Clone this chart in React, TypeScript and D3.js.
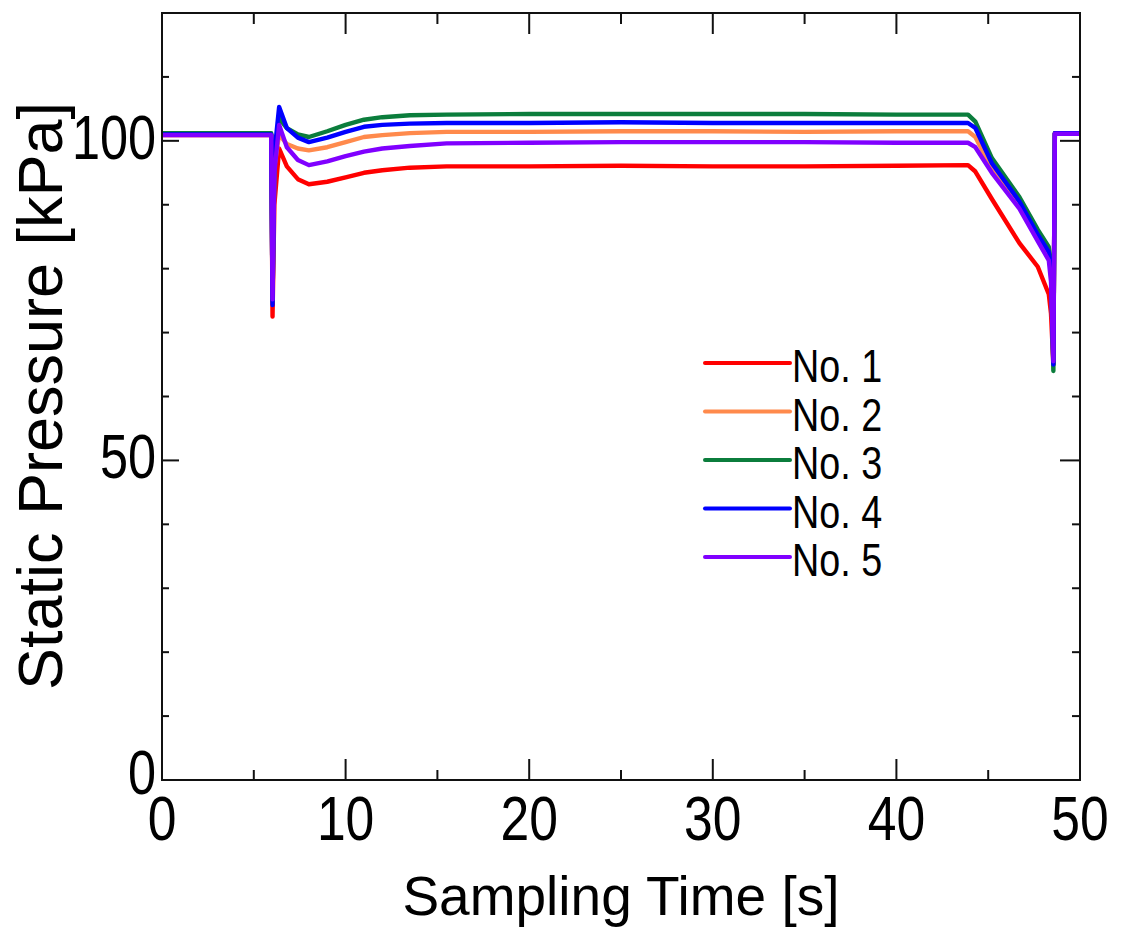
import React from "react";
import * as d3 from "d3";

// ---- data ----
const times = [0, 5.95, 6.02, 6.12, 6.38, 6.8, 7.4, 8.0, 9.0, 10.0, 11.0, 12.0, 13.5, 15.5, 20, 25, 30, 35, 40, 43.9, 44.3, 45.2, 46.7, 47.7, 48.3, 48.42, 48.55, 48.63, 50];

const no1 = [100.9, 100.9, 72.5, 90, 98.8, 96, 94, 93.2, 93.6, 94.3, 95.0, 95.4, 95.8, 96.0, 96.0, 96.1, 96.0, 96.0, 96.1, 96.2, 95.2, 90.9, 84, 80.3, 76, 73, 65, 101.1, 101.1];
const no2 = [101.0, 101.0, 75, 96, 101, 99.5, 98.8, 98.5, 99.0, 99.8, 100.6, 100.9, 101.2, 101.4, 101.4, 101.5, 101.5, 101.4, 101.5, 101.5, 100.6, 95.6, 89.8, 84.6, 81.8, 79.5, 65, 101.2, 101.2];
const no3 = [101.2, 101.2, 75, 97, 103.5, 102, 101, 100.6, 101.5, 102.5, 103.3, 103.7, 104.0, 104.1, 104.2, 104.2, 104.2, 104.2, 104.1, 104.1, 103.0, 97.3, 91.2, 86.1, 83.4, 80.5, 64, 101.2, 101.2];
const no4 = [101.0, 101.0, 74.3, 98, 105.3, 102, 100.5, 99.8, 100.5, 101.4, 102.2, 102.5, 102.7, 102.8, 102.8, 102.9, 102.8, 102.8, 102.8, 102.8, 102, 96.5, 90.5, 85.3, 82.6, 80, 65, 101.2, 101.2];
const no5 = [100.9, 100.9, 75.2, 95, 102.5, 99, 97, 96.2, 96.8, 97.6, 98.3, 98.8, 99.2, 99.6, 99.7, 99.8, 99.8, 99.8, 99.7, 99.7, 99.0, 95.0, 89.4, 84.3, 81.3, 78, 65.5, 101.1, 101.1];

const seriesNames = ["No. 1", "No. 2", "No. 3", "No. 4", "No. 5"];
const seriesValues = [no1, no2, no3, no4, no5];
const seriesColors = ["#ff0000", "#ff8a4c", "#0b7d3c", "#0000ff", "#8000ff"];

const xMajorTicks = [0, 10, 20, 30, 40, 50];
const xMinorTicks = [5, 15, 25, 35, 45];
const yMajorTicks = [0, 50, 100];
const yMinorTicks = [10, 20, 30, 40, 60, 70, 80, 90, 110];

// ---- layout ----
const W = 1127;
const H = 934;
const left = 162;
const right = 1080;
const top = 13;
const bottom = 780;

export default function App() {
  const x = d3.scaleLinear().domain([0, 50]).range([left, right]);
  const y = d3.scaleLinear().domain([0, 120]).range([bottom, top]);

  const line = d3
    .line<[number, number]>()
    .x((d) => x(d[0]))
    .y((d) => y(d[1]))
    .curve(d3.curveLinear);

  const font = "'Liberation Sans', Arial, sans-serif";

  return (
    <svg
      width={W}
      height={H}
      style={{ position: "absolute", left: 0, top: 0, background: "#fff" }}
    >
      <rect x={0} y={0} width={W} height={H} fill="#fff" />
      <defs>
        <clipPath id="plotclip">
          <rect x={left} y={top} width={right - left} height={bottom - top} />
        </clipPath>
      </defs>

      {/* series */}
      <g clipPath="url(#plotclip)">
        {seriesValues.map((vals, i) => (
          <path
            key={seriesNames[i]}
            d={line(times.map((t, j) => [t, vals[j]] as [number, number])) || ""}
            fill="none"
            stroke={seriesColors[i]}
            strokeWidth={4.4}
            strokeLinejoin="round"
          />
        ))}
      </g>

      {/* frame */}
      <rect
        x={left}
        y={top}
        width={right - left}
        height={bottom - top}
        fill="none"
        stroke="#111"
        strokeWidth={2}
      />

      {/* x ticks */}
      {xMajorTicks.map((t) => (
        <g key={"xM" + t}>
          <line x1={x(t)} x2={x(t)} y1={bottom} y2={bottom - 21} stroke="#111" strokeWidth={2} />
          <line x1={x(t)} x2={x(t)} y1={top} y2={top + 21} stroke="#111" strokeWidth={2} />
          <text
            transform={`translate(${x(t)},${bottom + 60}) scale(0.82,1)`}
            textAnchor="middle"
            fontFamily={font}
            fontSize={63}
            fill="#000"
          >
            {t}
          </text>
        </g>
      ))}
      {xMinorTicks.map((t) => (
        <g key={"xm" + t}>
          <line x1={x(t)} x2={x(t)} y1={bottom} y2={bottom - 10} stroke="#111" strokeWidth={2} />
          <line x1={x(t)} x2={x(t)} y1={top} y2={top + 11} stroke="#111" strokeWidth={2} />
        </g>
      ))}

      {/* y ticks */}
      {yMajorTicks.map((v) => (
        <g key={"yM" + v}>
          <line x1={left} x2={left + 17} y1={y(v)} y2={y(v)} stroke="#111" strokeWidth={2} />
          <line x1={right} x2={right - 20} y1={y(v)} y2={y(v)} stroke="#111" strokeWidth={2} />
          <text
            transform={`translate(${left - 6},${y(v) + (v === 0 ? 14 : 18)}) scale(0.8,1)`}
            textAnchor="end"
            fontFamily={font}
            fontSize={63}
            fill="#000"
          >
            {v}
          </text>
        </g>
      ))}
      {yMinorTicks.map((v) => (
        <g key={"ym" + v}>
          <line x1={left} x2={left + 7} y1={y(v)} y2={y(v)} stroke="#111" strokeWidth={2} />
          <line x1={right} x2={right - 8} y1={y(v)} y2={y(v)} stroke="#111" strokeWidth={2} />
        </g>
      ))}

      {/* axis titles */}
      <text
        x={(left + right) / 2}
        y={915}
        textAnchor="middle"
        fontFamily={font}
        fontSize={55}
        fill="#000"
      >
        Sampling Time [s]
      </text>
      <text
        transform={`translate(62,396) rotate(-90)`}
        textAnchor="middle"
        fontFamily={font}
        fontSize={63}
        fill="#000"
      >
        Static Pressure [kPa]
      </text>

      {/* legend */}
      {seriesNames.map((name, i) => {
        const ly = 363 + i * 48.5;
        return (
          <g key={"leg" + name}>
            <line x1={705} x2={790} y1={ly} y2={ly} stroke={seriesColors[i]} strokeWidth={4} strokeLinecap="round" />
            <text
              transform={`translate(792,${ly + 19}) scale(0.82,1)`}
              fontFamily={font}
              fontSize={46}
              fill="#000"
            >
              {name}
            </text>
          </g>
        );
      })}
    </svg>
  );
}
